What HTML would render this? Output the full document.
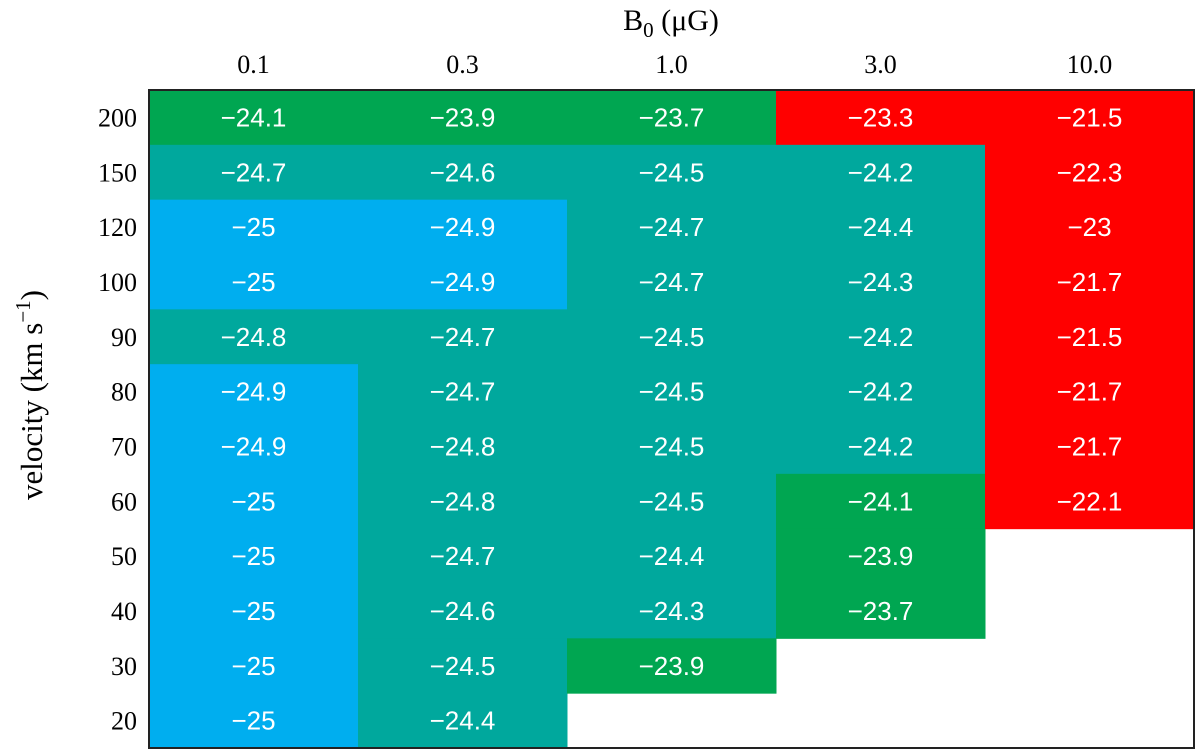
<!DOCTYPE html>
<html><head><meta charset="utf-8"><style>
html,body{margin:0;padding:0;background:#fff;width:1200px;height:754px;overflow:hidden}
</style></head><body>
<svg id="chart" width="1200" height="754" xmlns="http://www.w3.org/2000/svg">
<g id="cells"></g>
<g id="labels"></g>
<g id="xticks"></g>
<g id="yticks"></g>
<rect x="149" y="90" width="1045" height="658" fill="none" stroke="#222" stroke-width="2"/>
<text x="671" y="30" text-anchor="middle" font-family="Liberation Serif, serif" font-size="30">B<tspan font-size="21" dy="7">0</tspan><tspan dy="-7"> (μG)</tspan></text>
<text transform="translate(42,395) rotate(-90)" text-anchor="middle" font-family="Liberation Serif, serif" font-size="31">velocity (km s<tspan font-size="21" dy="-12">−1</tspan><tspan dy="12">)</tspan></text>
</svg>
<script>
const xCats = ["0.1","0.3","1.0","3.0","10.0"];
const yCats = ["200","150","120","100","90","80","70","60","50","40","30","20"];
const col01 = [-24.1,-24.7,-25,-25,-24.8,-24.9,-24.9,-25,-25,-25,-25,-25];
const col03 = [-23.9,-24.6,-24.9,-24.9,-24.7,-24.7,-24.8,-24.8,-24.7,-24.6,-24.5,-24.4];
const col10 = [-23.7,-24.5,-24.7,-24.7,-24.5,-24.5,-24.5,-24.5,-24.4,-24.3,-23.9,null];
const col30 = [-23.3,-24.2,-24.4,-24.3,-24.2,-24.2,-24.2,-24.1,-23.9,-23.7,null,null];
const col100 = [-21.5,-22.3,-23,-21.7,-21.5,-21.7,-21.7,-22.1,null,null,null,null];
const columns = [col01,col03,col10,col30,col100];
const ns="http://www.w3.org/2000/svg";
const X0=149,X1=1194,Y0=90,Y1=748;
const cw=(X1-X0)/xCats.length, ch=(Y1-Y0)/yCats.length;
function xPos(i){return X0+i*cw;}
function yPos(j){return Y0+j*ch;}
function color(v){if(v<=-24.85)return"#00aeef";if(v<=-24.15)return"#00a89d";if(v<=-23.5)return"#00a651";return"#ff0000";}
function fmt(v){return (v<0?"\u2212":"")+(Number.isInteger(v)?String(Math.abs(v)):Math.abs(v).toFixed(1));}
const cells=document.getElementById("cells"),labels=document.getElementById("labels");
columns.forEach((col,i)=>{col.forEach((v,j)=>{
 if(v===null)return;
 const r=document.createElementNS(ns,"rect");
 
 
 r.setAttribute("x",xPos(i));r.setAttribute("y",yPos(j));
 r.setAttribute("width",cw+0.5);r.setAttribute("height",ch+0.5);
 r.setAttribute("fill",color(v));cells.appendChild(r);
 const t=document.createElementNS(ns,"text");
 
 
 t.setAttribute("x",xPos(i)+cw/2);t.setAttribute("y",yPos(j)+ch/2+9);
 t.setAttribute("text-anchor","middle");t.setAttribute("fill","#fff");
 t.setAttribute("font-family","Liberation Sans, sans-serif");t.setAttribute("font-size","26");
 t.textContent=fmt(v);labels.appendChild(t);
});});
const xt=document.getElementById("xticks");
xCats.forEach((c,i)=>{const t=document.createElementNS(ns,"text");
 
 
 t.setAttribute("x",xPos(i)+cw/2);t.setAttribute("y",73);t.setAttribute("text-anchor","middle");
 t.setAttribute("font-family","Liberation Serif, serif");t.setAttribute("font-size","26");t.textContent=c;xt.appendChild(t);});
const yt=document.getElementById("yticks");
yCats.forEach((c,j)=>{const t=document.createElementNS(ns,"text");
 
 
 t.setAttribute("x",137);t.setAttribute("y",yPos(j)+ch/2+9);t.setAttribute("text-anchor","end");
 t.setAttribute("font-family","Liberation Serif, serif");t.setAttribute("font-size","26");t.textContent=c;yt.appendChild(t);});
</script>
</body></html>
